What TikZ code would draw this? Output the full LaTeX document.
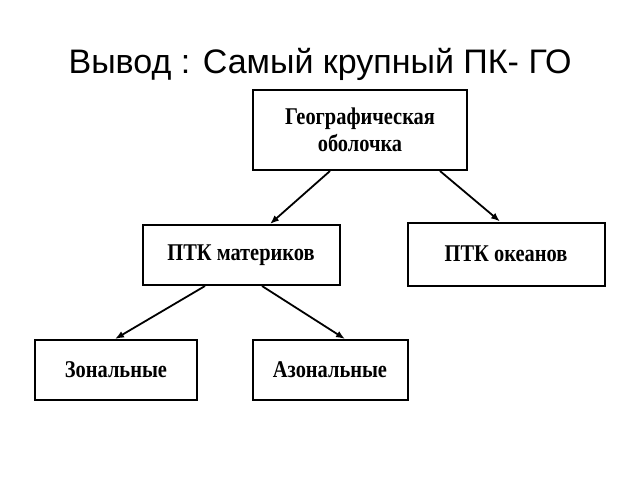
\documentclass[tikz,border=0pt]{standalone}
\usepackage{fontspec}
\setmainfont{Liberation Serif}
\newfontfamily\boxfont[FakeStretch=0.85]{Liberation Serif}
\newfontfamily\titlefont{Liberation Sans}
\usetikzlibrary{arrows.meta}
\begin{document}
\begin{tikzpicture}[x=1pt,y=-1pt,
  box/.style={draw,line width=2pt,inner sep=0pt,font=\boxfont\fontsize{24}{27}\selectfont\bfseries,align=center},
  conn/.style={line width=1.8pt,-{Latex[length=9pt,width=7pt]}}]
\useasboundingbox (0,0) rectangle (640,480);
\node[font=\titlefont\fontsize{34}{38}\selectfont] (title) at (320,64) {Вывод : Самый крупный ПК- ГО};
\node[box,minimum width=214pt,minimum height=80pt] (geo) at (360,130) {Географическая\\оболочка};
\node[box,minimum width=197pt,minimum height=60pt] (mat) at (241,255) {ПТК материков};
\node[box,minimum width=197pt,minimum height=63pt] (ocean) at (506,254) {ПТК океанов};
\node[box,minimum width=162pt,minimum height=60pt] (zon) at (116,370) {Зональные};
\node[box,minimum width=155pt,minimum height=60pt] (azon) at (330,370) {Азональные};
\draw[conn] (geo.south -| 330,0) -- (mat.north -| 270,0);
\draw[conn] (geo.south -| 440,0) -- (ocean.north -| 500,0);
\draw[conn] (mat.south -| 205,0) -- (zon.north -| 115,0);
\draw[conn] (mat.south -| 262,0) -- (azon.north -| 345,0);
\end{tikzpicture}
\end{document}
